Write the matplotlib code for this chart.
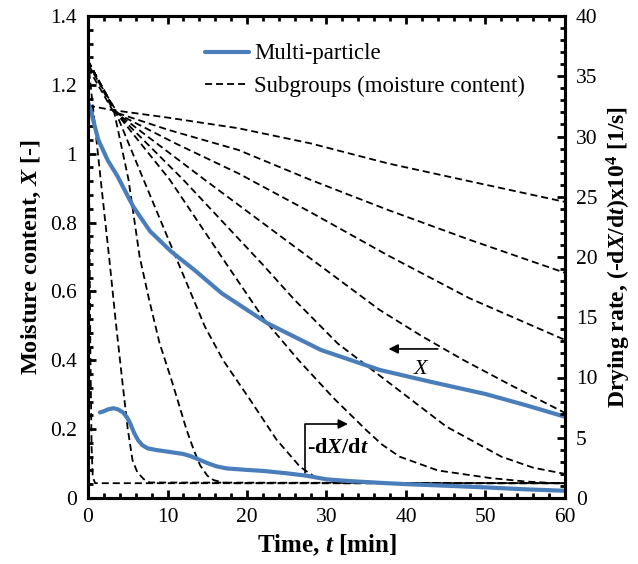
import numpy as np
import matplotlib
matplotlib.use('Agg')
import matplotlib.pyplot as plt
from matplotlib.ticker import MultipleLocator, FuncFormatter

plt.rcParams['font.family'] = ['Liberation Serif', 'DejaVu Serif']
plt.rcParams['mathtext.fontset'] = 'custom'
plt.rcParams['mathtext.rm'] = 'Liberation Serif:bold'
plt.rcParams['mathtext.bf'] = 'Liberation Serif:bold'
plt.rcParams['mathtext.it'] = 'Liberation Serif:italic:bold'

# multi-particle moisture content X [-]
mp_t = [0, 0.4, 1.3, 2.5, 3.7, 5.7, 7.8, 10.5, 13.4, 16.8, 22.6, 29.3, 36.7, 43, 50, 55, 60]
mp_x = [1.15, 1.12, 1.04, 0.98, 0.935, 0.846, 0.775, 0.715, 0.662, 0.595, 0.507, 0.43,
        0.372, 0.338, 0.302, 0.27, 0.236]

# multi-particle drying rate (-dX/dt)x10^4 [1/s]
rate_t = [1.5, 2.0, 2.5, 3.2, 3.8, 4.4, 4.9, 5.3, 5.8, 6.3, 6.8, 7.5, 8.6, 10, 12, 13,
          14.1, 15.2, 16.2, 17.5, 20, 22, 25, 27.5, 30, 33, 37, 40, 45, 50, 55, 60]
rate_v = [7.1, 7.2, 7.35, 7.45, 7.35, 7.1, 6.7, 6.2, 5.4, 4.8, 4.4, 4.12, 3.98, 3.85,
          3.65, 3.45, 3.15, 2.85, 2.62, 2.45, 2.33, 2.25, 2.05, 1.85, 1.55, 1.4, 1.25,
          1.15, 1.02, 0.88, 0.72, 0.6]

# subgroups (moisture content)
sg1_t = [0, 0.15, 0.3, 0.45, 0.6, 0.9, 60]
sg1_x = [1.27, 0.85, 0.42, 0.15, 0.06, 0.043, 0.043]
sg2_t = [0, 0.6, 1.6, 2.7, 3.5, 4.3, 5.0, 5.6, 6.2, 7.0, 7.8, 60]
sg2_x = [1.27, 1.14, 0.924, 0.69, 0.51, 0.343, 0.2, 0.11, 0.075, 0.055, 0.045, 0.043]
sg3_t = [0, 3.3, 5.1, 6.5, 7.7, 9.0, 10.5, 12.4, 13.3, 14.1, 15.0, 15.8, 17, 18, 60]
sg3_x = [1.27, 1.12, 0.924, 0.70, 0.575, 0.45, 0.343, 0.198, 0.14, 0.095, 0.065, 0.052,
         0.045, 0.043, 0.043]
sg4_t = [0, 3.5, 7.0, 11.4, 14.7, 17.0, 20.4, 23.7, 26.7, 28.5, 30.8, 32, 60]
sg4_x = [1.27, 1.12, 0.924, 0.68, 0.498, 0.40, 0.285, 0.17, 0.09, 0.062, 0.046, 0.043, 0.043]
sg5_t = [0, 3.5, 10.3, 17.4, 22.2, 26.5, 30.9, 35.1, 37, 39.2, 44, 50.6, 55, 58, 60]
sg5_x = [1.27, 1.12, 0.924, 0.68, 0.517, 0.40, 0.29, 0.195, 0.155, 0.12, 0.08, 0.058,
         0.048, 0.044, 0.043]
sg6_t = [0, 3.5, 12, 21.9, 26, 31.4, 37.4, 45.1, 52, 56, 60]
sg6_x = [1.27, 1.12, 0.924, 0.68, 0.575, 0.449, 0.343, 0.207, 0.12, 0.088, 0.07]
sg7_t = [0, 3.5, 14.7, 28.9, 36.7, 42, 47.2, 53, 60]
sg7_x = [1.27, 1.12, 0.924, 0.68, 0.546, 0.47, 0.401, 0.33, 0.247]
sg8_t = [0, 3.8, 11, 18.9, 28, 37.7, 48, 60]
sg8_x = [1.26, 1.115, 1.03, 0.943, 0.83, 0.705, 0.58, 0.459]
sg9_t = [0, 3.2, 10, 18.9, 28, 37.7, 48, 60]
sg9_x = [1.25, 1.122, 1.07, 1.011, 0.924, 0.837, 0.75, 0.654]
sg10_t = [0, 3, 10, 18.9, 28, 37.7, 48, 60]
sg10_x = [1.14, 1.127, 1.105, 1.074, 1.03, 0.972, 0.92, 0.86]

subgroups = [(sg1_t, sg1_x), (sg2_t, sg2_x), (sg3_t, sg3_x), (sg4_t, sg4_x),
             (sg5_t, sg5_x), (sg6_t, sg6_x), (sg7_t, sg7_x), (sg8_t, sg8_x),
             (sg9_t, sg9_x), (sg10_t, sg10_x)]

blue = '#4a7ebb'
dash = (0, (3.9, 2.2))

fig = plt.figure(figsize=(6.38, 5.64), dpi=100)
ax = fig.add_axes([88 / 638, 66 / 564, 477 / 638, 482 / 564])
ax2 = ax.twinx()

for i, (t, x) in enumerate(subgroups):
    ax.plot(t, x, color='black', lw=1.3, linestyle=dash,
            label='Subgroups (moisture content)' if i == 0 else None, zorder=2)
ax.plot(mp_t, mp_x, color=blue, lw=3, label='Multi-particle', zorder=3,
        solid_capstyle='round')
ax2.plot(rate_t, rate_v, color=blue, lw=3, solid_capstyle='round')

ax.set_xlim(0, 60)
ax.set_ylim(0, 1.4)
ax2.set_ylim(0, 40)

ax.xaxis.set_major_locator(MultipleLocator(10))
ax.xaxis.set_minor_locator(MultipleLocator(2))
ax.yaxis.set_major_locator(MultipleLocator(0.2))
ax.yaxis.set_minor_locator(MultipleLocator(0.04))
ax2.yaxis.set_major_locator(MultipleLocator(5))
ax2.yaxis.set_minor_locator(MultipleLocator(1))
ax.yaxis.set_major_formatter(FuncFormatter(lambda v, p: ('%.1f' % v).rstrip('0').rstrip('.') if v else '0'))

for a in (ax, ax2):
    a.tick_params(which='major', direction='in', length=6, width=2, labelsize=15.5)
    a.tick_params(which='minor', direction='in', length=3.5, width=2)
    for s in a.spines.values():
        s.set_linewidth(2.2)
ax.tick_params(axis='x', which='both', top=True, pad=7)
ax.tick_params(axis='y', which='both', right=False, pad=8)
ax2.tick_params(axis='y', which='both', pad=8)

ax.set_xlabel('Time, $t$ [min]', fontsize=18, fontweight='bold', labelpad=4)
ax.set_ylabel('Moisture content, $X$ [-]', fontsize=17.5, fontweight='bold', labelpad=5)
ax2.set_ylabel('Drying rate, (-d$X$/d$t$)x10$^{\\mathbf{4}}$ [1/s]', fontsize=17,
               fontweight='bold', labelpad=5)

# annotations
ax.annotate('', xy=(37.8, 0.433), xytext=(44.0, 0.433),
            arrowprops=dict(arrowstyle='-|>', color='black', lw=1.2, shrinkA=0, shrinkB=0,
                            mutation_scale=14))
ax.text(41.8, 0.372, 'X', fontsize=16, fontstyle='italic', ha='center', va='center')
ax.annotate('', xy=(32.7, 0.215), xytext=(27.26, 0.074),
            arrowprops=dict(arrowstyle='-|>', color='black', lw=1.2, shrinkA=0, shrinkB=0,
                            mutation_scale=14,
                            connectionstyle='angle,angleA=90,angleB=0,rad=0'))
ax.text(27.6, 0.145, '-d$X$/d$t$', fontsize=16, fontweight='bold', ha='left', va='center')

h, l = ax.get_legend_handles_labels()
ax.legend(h[::-1], l[::-1], loc='upper left', bbox_to_anchor=(0.245, 0.943), frameon=False,
          fontsize=16.4, handlelength=1.95, handletextpad=0.2, labelspacing=0.5,
          borderaxespad=0, borderpad=0)

fig.savefig('out.png', dpi=100)
